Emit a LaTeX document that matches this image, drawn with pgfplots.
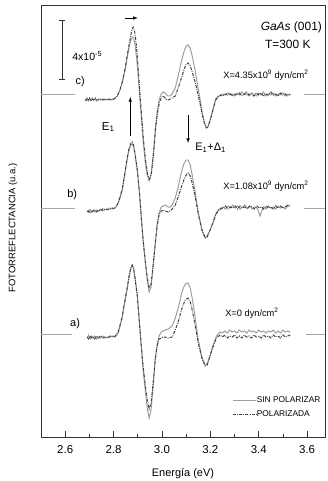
\documentclass[border=0pt]{standalone}
\usepackage{fontspec}
\setmainfont{Liberation Sans}
\usepackage{pgfplots}
\pgfplotsset{compat=1.18}
\definecolor{solidc}{gray}{0.62}
\definecolor{dashc}{gray}{0.25}
\begin{document}
\begin{tikzpicture}
\useasboundingbox (-41bp,-44bp) rectangle (287bp,437bp);
\begin{axis}[
  at={(0,0)}, anchor=south west,
  scale only axis, width=284bp, height=432bp,
  xmin=2.5, xmax=3.674, ymin=5, ymax=437, y dir=reverse,
  ytick=\empty,
  xtick={2.6,2.8,3.0,3.2,3.4,3.6},
  minor xtick={2.7,2.9,3.1,3.3,3.5},
  xticklabels={2.6,2.8,3.0,3.2,3.4,3.6},
  xtick pos=bottom, tick align=inside,
  major tick length=6bp, minor tick length=3bp,
  every tick/.style={black!80, line width=0.7pt},
  axis line style={black!80, line width=0.7pt},
  /pgf/number format/assume math mode=true,
  tick label style={font=\fontsize{11.5}{13}\selectfont},
  xticklabel style={yshift=-5bp},
  xlabel={Energía (eV)},
  xlabel style={font=\fontsize{11}{13}\selectfont, yshift=-8bp},
  ylabel={FOTORREFLECTANCIA (u.a.)},
  ylabel style={font=\fontsize{9.5}{11}\selectfont, at={(axis description cs:-0.0986,0.484)}, anchor=center},
  clip=false,
]
% reference baselines
\draw[gray!70, line width=0.5pt] (axis cs:2.5,94) -- (axis cs:2.641,94);
\draw[gray!70, line width=0.5pt] (axis cs:3.588,94) -- (axis cs:3.674,94);
\draw[gray!70, line width=0.5pt] (axis cs:2.5,208) -- (axis cs:2.641,208);
\draw[gray!70, line width=0.5pt] (axis cs:3.588,208) -- (axis cs:3.674,208);
\draw[gray!70, line width=0.5pt] (axis cs:2.5,334) -- (axis cs:2.629,334);
\draw[gray!70, line width=0.5pt] (axis cs:3.597,334) -- (axis cs:3.674,334);

% ---- curve c) solid
\addplot[solidc, line width=1pt] coordinates {
(2.683,100)(2.690,98)(2.695,101)(2.700,99)(2.706,100)(2.712,98)(2.718,100)(2.724,99)(2.730,101)(2.736,99)(2.745,100)(2.755,99)(2.765,100)(2.775,99)(2.786,100)(2.797,99)(2.807,98)(2.815,96)(2.825,91)(2.836,82)(2.848,70)(2.856,58)(2.864,47)(2.872,40)(2.877,37)(2.883,38)(2.889,45)(2.898,65)(2.906,90)(2.914,115)(2.922,140)(2.931,162)(2.939,175)(2.947,181)(2.955,175)(2.964,155)(2.972,130)(2.980,112)(2.988,100)(2.997,94)(3.005,92)(3.013,93)(3.020,95)(3.026,96)(3.034,96)(3.042,94)(3.055,88)(3.067,76)(3.075,67)(3.083,59)(3.092,51)(3.100,46)(3.108,45)(3.117,48)(3.125,56)(3.137,70)(3.145,82)(3.158,100)(3.166,112)(3.175,122)(3.183,127)(3.190,127)(3.199,120)(3.212,108)(3.222,99)(3.232,96)(3.240,96)(3.250,94)(3.260,95)(3.270,93)(3.280,95)(3.290,94)(3.300,96)(3.310,93)(3.320,95)(3.330,92)(3.340,95)(3.350,94)(3.360,96)(3.370,93)(3.380,94)(3.390,96)(3.400,93)(3.410,95)(3.420,92)(3.430,96)(3.440,94)(3.450,95)(3.460,93)(3.470,96)(3.480,94)(3.490,95)(3.500,93)(3.510,96)(3.520,94)(3.530,95)
};
% ---- curve c) dashed
\addplot[dashc, line width=1pt, dash pattern=on 3pt off 1.2pt on 0.8pt off 1.2pt] coordinates {
(2.683,101)(2.690,99)(2.695,100)(2.700,98)(2.706,101)(2.712,99)(2.718,100)(2.724,98)(2.730,100)(2.736,100)(2.745,99)(2.755,100)(2.765,99)(2.775,100)(2.786,99)(2.797,100)(2.807,98)(2.815,96)(2.825,91)(2.836,82)(2.848,68)(2.856,56)(2.864,45)(2.872,34)(2.877,29)(2.881,27)(2.886,30)(2.892,40)(2.900,62)(2.908,90)(2.916,116)(2.924,141)(2.933,162)(2.941,175)(2.949,179)(2.957,172)(2.966,152)(2.974,128)(2.982,112)(2.990,102)(2.999,97)(3.005,96)(3.013,98)(3.020,100)(3.026,100)(3.034,99)(3.042,98)(3.055,96)(3.067,88)(3.075,82)(3.083,76)(3.092,69)(3.100,64)(3.108,63)(3.117,66)(3.125,72)(3.137,82)(3.145,90)(3.158,104)(3.166,114)(3.175,123)(3.183,128)(3.190,127)(3.199,121)(3.212,109)(3.222,100)(3.232,97)(3.240,95)(3.250,96)(3.260,94)(3.270,95)(3.280,93)(3.290,96)(3.300,94)(3.310,95)(3.320,93)(3.330,96)(3.340,94)(3.350,92)(3.360,95)(3.370,94)(3.380,96)(3.390,93)(3.400,95)(3.410,93)(3.420,96)(3.430,94)(3.440,95)(3.450,92)(3.460,95)(3.470,94)(3.480,96)(3.490,93)(3.500,95)(3.510,94)(3.520,96)(3.530,94)
};

% ---- curve b) solid
\addplot[solidc, line width=1pt] coordinates {
(2.691,212)(2.697,210)(2.703,213)(2.710,211)(2.716,210)(2.722,212)(2.730,210)(2.738,211)(2.745,209)(2.755,211)(2.765,209)(2.775,210)(2.786,208)(2.797,209)(2.807,208)(2.819,203)(2.828,197)(2.836,190)(2.848,172)(2.856,160)(2.864,150)(2.872,145)(2.877,144)(2.883,147)(2.889,155)(2.898,170)(2.906,190)(2.914,215)(2.922,240)(2.931,262)(2.939,280)(2.947,292)(2.955,287)(2.964,265)(2.972,245)(2.980,225)(2.988,213)(2.997,207)(3.005,206)(3.013,205)(3.026,207)(3.034,207)(3.042,205)(3.055,198)(3.067,187)(3.075,178)(3.083,170)(3.092,163)(3.100,160)(3.108,160)(3.117,165)(3.125,175)(3.137,192)(3.150,212)(3.166,230)(3.179,238)(3.187,236)(3.199,230)(3.212,222)(3.222,214)(3.232,210)(3.243,208)(3.253,207)(3.263,209)(3.273,206)(3.283,208)(3.293,205)(3.303,208)(3.313,206)(3.323,209)(3.333,207)(3.343,205)(3.353,208)(3.363,206)(3.373,209)(3.383,207)(3.393,208)(3.400,212)(3.406,216)(3.412,211)(3.420,207)(3.430,209)(3.440,206)(3.450,208)(3.460,207)(3.470,209)(3.480,206)(3.490,208)(3.500,207)(3.510,209)(3.520,206)(3.530,205)
};
% ---- curve b) dashed
\addplot[dashc, line width=1pt, dash pattern=on 3pt off 1.2pt on 0.8pt off 1.2pt] coordinates {
(2.691,211)(2.697,212)(2.703,210)(2.710,212)(2.716,211)(2.722,210)(2.730,212)(2.738,210)(2.745,211)(2.755,209)(2.765,210)(2.775,209)(2.786,209)(2.797,208)(2.807,208)(2.819,203)(2.828,196)(2.836,189)(2.848,171)(2.856,158)(2.864,148)(2.872,143)(2.877,142)(2.883,145)(2.889,154)(2.898,170)(2.906,190)(2.914,215)(2.922,240)(2.931,261)(2.939,277)(2.947,288)(2.955,284)(2.964,264)(2.972,244)(2.980,226)(2.988,215)(2.997,211)(3.005,210)(3.013,211)(3.026,212)(3.034,211)(3.042,209)(3.055,205)(3.067,197)(3.083,185)(3.092,179)(3.100,175)(3.108,173)(3.117,176)(3.125,183)(3.137,196)(3.150,214)(3.166,231)(3.179,238)(3.187,237)(3.199,230)(3.212,222)(3.222,215)(3.232,211)(3.243,209)(3.253,208)(3.263,206)(3.273,209)(3.283,207)(3.293,208)(3.303,206)(3.313,209)(3.323,206)(3.333,208)(3.343,207)(3.353,209)(3.363,206)(3.373,207)(3.383,209)(3.393,206)(3.403,208)(3.413,207)(3.420,209)(3.430,206)(3.440,208)(3.450,207)(3.460,209)(3.470,206)(3.480,208)(3.490,206)(3.500,208)(3.510,207)(3.520,205)(3.530,207)
};

% ---- curve a) solid
\addplot[solidc, line width=1pt] coordinates {
(2.691,338)(2.697,335)(2.703,339)(2.710,336)(2.716,338)(2.722,336)(2.730,339)(2.738,337)(2.745,338)(2.755,336)(2.765,338)(2.775,337)(2.786,337)(2.797,336)(2.807,337)(2.819,333)(2.828,325)(2.836,317)(2.848,300)(2.856,290)(2.864,277)(2.872,268)(2.877,265)(2.883,268)(2.889,278)(2.898,295)(2.906,320)(2.914,345)(2.922,370)(2.931,390)(2.939,408)(2.947,418)(2.955,410)(2.964,385)(2.972,360)(2.980,345)(2.988,336)(2.997,332)(3.005,331)(3.013,330)(3.026,329)(3.042,326)(3.055,318)(3.067,308)(3.075,300)(3.083,292)(3.092,286)(3.100,283)(3.108,283)(3.117,288)(3.125,298)(3.137,317)(3.150,340)(3.166,358)(3.179,365)(3.187,364)(3.199,355)(3.212,345)(3.225,336)(3.240,332)(3.250,333)(3.260,331)(3.270,333)(3.280,330)(3.290,332)(3.300,331)(3.310,333)(3.320,330)(3.330,332)(3.340,331)(3.350,333)(3.360,330)(3.370,332)(3.380,331)(3.390,333)(3.400,330)(3.410,332)(3.420,331)(3.430,333)(3.440,331)(3.450,332)(3.460,330)(3.470,333)(3.480,331)(3.490,333)(3.500,330)(3.510,332)(3.520,331)(3.530,332)
};
% ---- curve a) dashed
\addplot[dashc, line width=1pt, dash pattern=on 3pt off 1.2pt on 0.8pt off 1.2pt] coordinates {
(2.691,337)(2.697,339)(2.703,336)(2.710,338)(2.716,337)(2.722,339)(2.730,336)(2.738,338)(2.745,336)(2.755,338)(2.765,337)(2.775,338)(2.786,336)(2.797,337)(2.807,336)(2.819,332)(2.828,324)(2.836,316)(2.848,299)(2.856,288)(2.864,276)(2.872,267)(2.877,265)(2.883,269)(2.889,279)(2.898,296)(2.906,320)(2.914,344)(2.922,366)(2.931,385)(2.939,400)(2.947,409)(2.955,403)(2.964,382)(2.972,360)(2.980,346)(2.988,339)(2.997,338)(3.005,337)(3.013,337)(3.026,338)(3.042,337)(3.055,330)(3.067,322)(3.083,308)(3.096,300)(3.108,298)(3.117,302)(3.125,310)(3.137,325)(3.150,343)(3.166,359)(3.179,366)(3.187,365)(3.199,356)(3.212,346)(3.225,338)(3.240,335)(3.250,337)(3.260,335)(3.270,338)(3.280,336)(3.290,337)(3.300,335)(3.310,338)(3.320,336)(3.330,338)(3.340,335)(3.350,337)(3.360,336)(3.370,338)(3.380,335)(3.390,337)(3.400,336)(3.410,338)(3.420,335)(3.430,337)(3.440,336)(3.450,338)(3.460,335)(3.470,337)(3.480,336)(3.490,338)(3.500,335)(3.510,337)(3.520,336)(3.530,335)
};

% scale bar
\draw[black!80, line width=0.6pt] (axis cs:2.588,20) -- (axis cs:2.588,79);
\draw[black!80, line width=0.6pt] (axis cs:2.576,20) -- (axis cs:2.600,20);
\draw[black!80, line width=0.6pt] (axis cs:2.576,79) -- (axis cs:2.600,79);
\node[anchor=west, font=\fontsize{10.5}{12}\selectfont, inner sep=0pt] at (axis cs:2.629,56) {4x10\textsuperscript{-5}};

% arrows
\draw[-latex, black, line width=0.6pt] (axis cs:2.848,18) -- (axis cs:2.900,18);
\draw[-latex, black, line width=0.6pt] (axis cs:2.869,136) -- (axis cs:2.869,97);
\draw[-latex, black, line width=0.6pt] (axis cs:3.108,115) -- (axis cs:3.108,143);

% labels
\node[font=\fontsize{11.5}{13}\selectfont, inner sep=0pt] at (axis cs:2.778,127) {E\textsubscript{1}};
\node[anchor=west, font=\fontsize{11}{13}\selectfont, inner sep=0pt] at (axis cs:3.137,148) {E\textsubscript{1}+Δ\textsubscript{1}};
\node[anchor=east, font=\fontsize{12}{14}\selectfont, inner sep=0pt] at (axis cs:3.662,27) {\textit{GaAs} (001)};
\node[anchor=east, font=\fontsize{12}{14}\selectfont, inner sep=0pt] at (axis cs:3.615,44) {T=300 K};
\node[anchor=west, font=\fontsize{9.3}{11}\selectfont, inner sep=0pt] at (axis cs:3.253,75) {X=4.35x10\textsuperscript{9} dyn/cm\textsuperscript{2}};
\node[anchor=west, font=\fontsize{9.3}{11}\selectfont, inner sep=0pt] at (axis cs:3.253,186) {X=1.08x10\textsuperscript{9} dyn/cm\textsuperscript{2}};
\node[anchor=west, font=\fontsize{9.3}{11}\selectfont, inner sep=0pt] at (axis cs:3.261,313) {X=0 dyn/cm\textsuperscript{2}};
\node[font=\fontsize{11}{13}\selectfont, inner sep=0pt] at (axis cs:2.662,82) {c)};
\node[font=\fontsize{11}{13}\selectfont, inner sep=0pt] at (axis cs:2.629,195) {b)};
\node[font=\fontsize{11}{13}\selectfont, inner sep=0pt] at (axis cs:2.641,324) {a)};

% legend
\draw[solidc, line width=1pt] (axis cs:3.294,400) -- (axis cs:3.389,400);
\draw[dashc, line width=1pt, dash pattern=on 3pt off 1.2pt on 0.8pt off 1.2pt] (axis cs:3.294,414) -- (axis cs:3.389,414);
\node[anchor=west, font=\fontsize{8.4}{10}\selectfont, inner sep=0.5pt] at (axis cs:3.389,400) {SIN POLARIZAR};
\node[anchor=west, font=\fontsize{8.4}{10}\selectfont, inner sep=0.5pt] at (axis cs:3.389,414) {POLARIZADA};
\end{axis}
\end{tikzpicture}
\end{document}
